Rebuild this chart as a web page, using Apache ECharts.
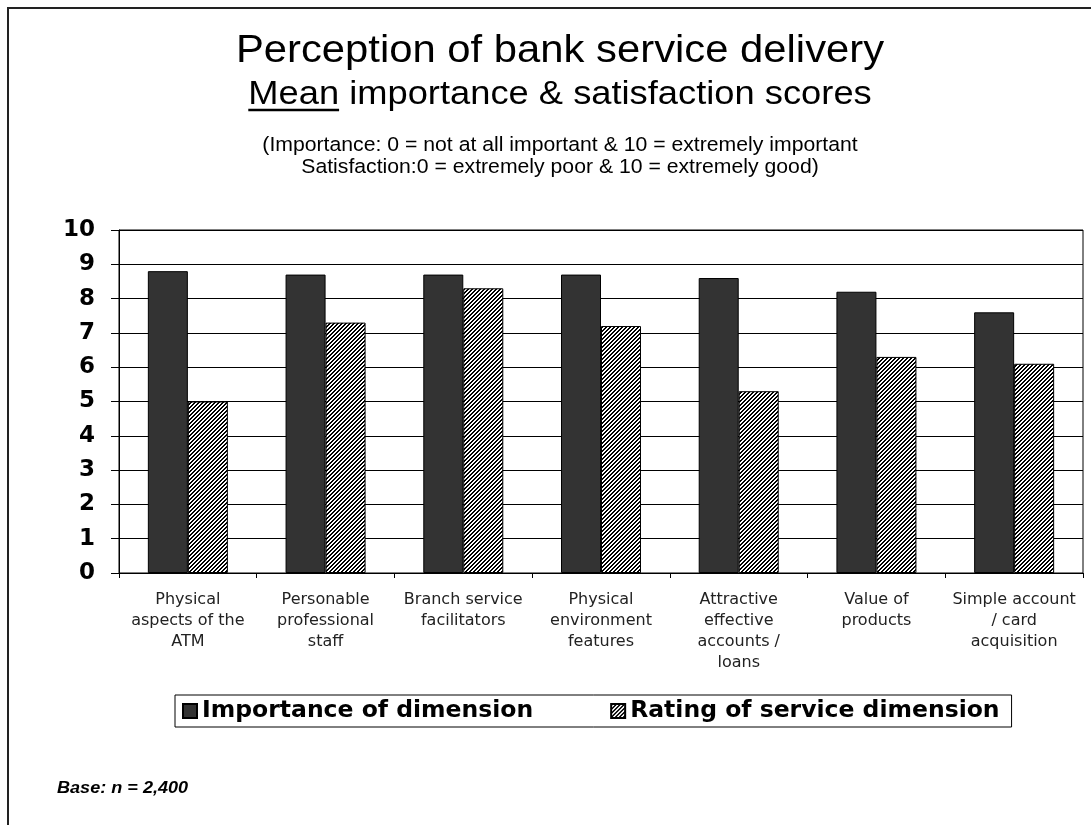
<!DOCTYPE html>
<html>
<head>
<meta charset="utf-8">
<script src="https://cdn.jsdelivr.net/npm/echarts@6/dist/echarts.min.js"></script>
<style>
html,body{margin:0;padding:0;background:#fff;}
#chart{width:1091px;height:825px;}
</style>
</head>
<body>
<div id="chart"></div>
<script>
// ---- data ----
const categories = [
  'Physical\naspects of the\nATM',
  'Personable\nprofessional\nstaff',
  'Branch service\nfacilitators',
  'Physical\nenvironment\nfeatures',
  'Attractive\neffective\naccounts /\nloans',
  'Value of\nproducts',
  'Simple account\n/ card\nacquisition'
];
const importance = [8.8, 8.7, 8.7, 8.7, 8.6, 8.2, 7.6];
const rating = [5.0, 7.3, 8.3, 7.2, 5.3, 6.3, 6.1];
const seriesNames = ['Importance of dimension', 'Rating of service dimension'];
const yMin = 0, yMax = 10, yStep = 1;
const titleLine1 = 'Perception of bank service delivery';
const titleLine2Underlined = 'Mean';
const titleLine2Rest = ' importance & satisfaction scores';
const noteLine1 = '(Importance: 0 = not at all important & 10 = extremely important';
const noteLine2 = 'Satisfaction:0 = extremely poor & 10 = extremely good)';
const baseNote = 'Base: n = 2,400';

// ---- hatch pattern ----
function makeHatch() {
  const c = document.createElement('canvas');
  c.width = 4; c.height = 4;
  const ctx = c.getContext('2d');
  ctx.fillStyle = '#fff';
  ctx.fillRect(0, 0, 4, 4);
  ctx.fillStyle = '#000';
  for (let x = 0; x < 4; x++) {
    for (let y = 0; y < 4; y++) {
      const m = (x + y) % 4;
      if (m === 0 || m === 1) ctx.fillRect(x, y, 1, 1);
    }
  }
  return c;
}
const hatch = makeHatch();

// ---- text measurement for underline ----
const SX = 1.1;
const CX = 560;
function textW(str, font) {
  const c = document.createElement('canvas').getContext('2d');
  c.font = font;
  return c.measureText(str).width;
}
const t1Font = '38px "Liberation Sans"';
const t2Font = '33px "Liberation Sans"';
const noteFont = '19.3px "Liberation Sans"';
const t2Full = textW(titleLine2Underlined + titleLine2Rest, t2Font) * SX;
const t2Mean = textW(titleLine2Underlined, t2Font) * SX;
const ulLeft = CX - t2Full / 2;

const chart = echarts.init(document.getElementById('chart'), null, {renderer: 'canvas'});
const option = {
  backgroundColor: '#fff',
  animation: false,
  grid: {left: 119, right: 8, top: 230, bottom: 252, show: true, borderColor: '#000', borderWidth: 1, containLabel: false},
  legend: {
    left: 175, top: 695,
    data: seriesNames,
    icon: 'rect',
    itemWidth: 14, itemHeight: 14,
    itemGap: 77,
    padding: [4, 12, 4, 7],
    borderColor: '#000', borderWidth: 1,
    textStyle: {fontFamily: 'DejaVu Sans', fontWeight: 'bold', fontSize: 23.5, color: '#000'}
  },
  xAxis: {
    type: 'category',
    data: categories,
    axisLine: {lineStyle: {color: '#000', width: 1}},
    axisTick: {show: true, length: 5, alignWithLabel: false, lineStyle: {color: '#000'}},
    axisLabel: {interval: 0, margin: 16, fontFamily: 'DejaVu Sans', fontSize: 16, lineHeight: 21, color: '#222'},
    splitLine: {show: false}
  },
  yAxis: {
    type: 'value',
    min: yMin, max: yMax, interval: yStep,
    axisLine: {show: true, lineStyle: {color: '#000', width: 1}},
    axisTick: {show: true, length: 8, lineStyle: {color: '#000'}},
    axisLabel: {margin: 24, fontFamily: 'DejaVu Sans', fontWeight: 'bold', fontSize: 23, color: '#000'},
    splitLine: {show: true, lineStyle: {color: '#000', width: 1}}
  },
  series: [
    {
      name: seriesNames[0], type: 'bar', data: importance,
      barWidth: 40, barGap: '0%',
      itemStyle: {color: '#333333', borderColor: '#000', borderWidth: 1}
    },
    {
      name: seriesNames[1], type: 'bar', data: rating,
      barWidth: 40, barGap: '0%',
      itemStyle: {color: {image: hatch, repeat: 'repeat'}, borderColor: '#000', borderWidth: 1}
    }
  ],
  graphic: [
    {type: 'polyline', shape: {points: [[8, 825], [8, 8], [1091, 8]]}, style: {stroke: '#222', lineWidth: 2, fill: null}, silent: true},
    {type: 'text', x: CX, y: 52, scaleX: SX, style: {text: titleLine1, font: t1Font, fill: '#000', align: 'center', verticalAlign: 'middle'}},
    {type: 'text', x: CX, y: 95, scaleX: SX, style: {text: titleLine2Underlined + titleLine2Rest, font: t2Font, fill: '#000', align: 'center', verticalAlign: 'middle'}},
    {type: 'line', shape: {x1: ulLeft, y1: 110, x2: ulLeft + t2Mean, y2: 110}, style: {stroke: '#000', lineWidth: 2.5}},
    {type: 'text', x: CX, y: 146, scaleX: SX, style: {text: noteLine1, font: noteFont, fill: '#000', align: 'center', verticalAlign: 'middle'}},
    {type: 'text', x: CX, y: 168, scaleX: SX, style: {text: noteLine2, font: noteFont, fill: '#000', align: 'center', verticalAlign: 'middle'}},
    {type: 'text', x: 57, y: 789, scaleX: 1.13, style: {text: baseNote, font: 'italic bold 16px "Liberation Sans"', fill: '#000', align: 'left', verticalAlign: 'middle'}}
  ]
};
chart.setOption(option);
</script>
</body>
</html>
